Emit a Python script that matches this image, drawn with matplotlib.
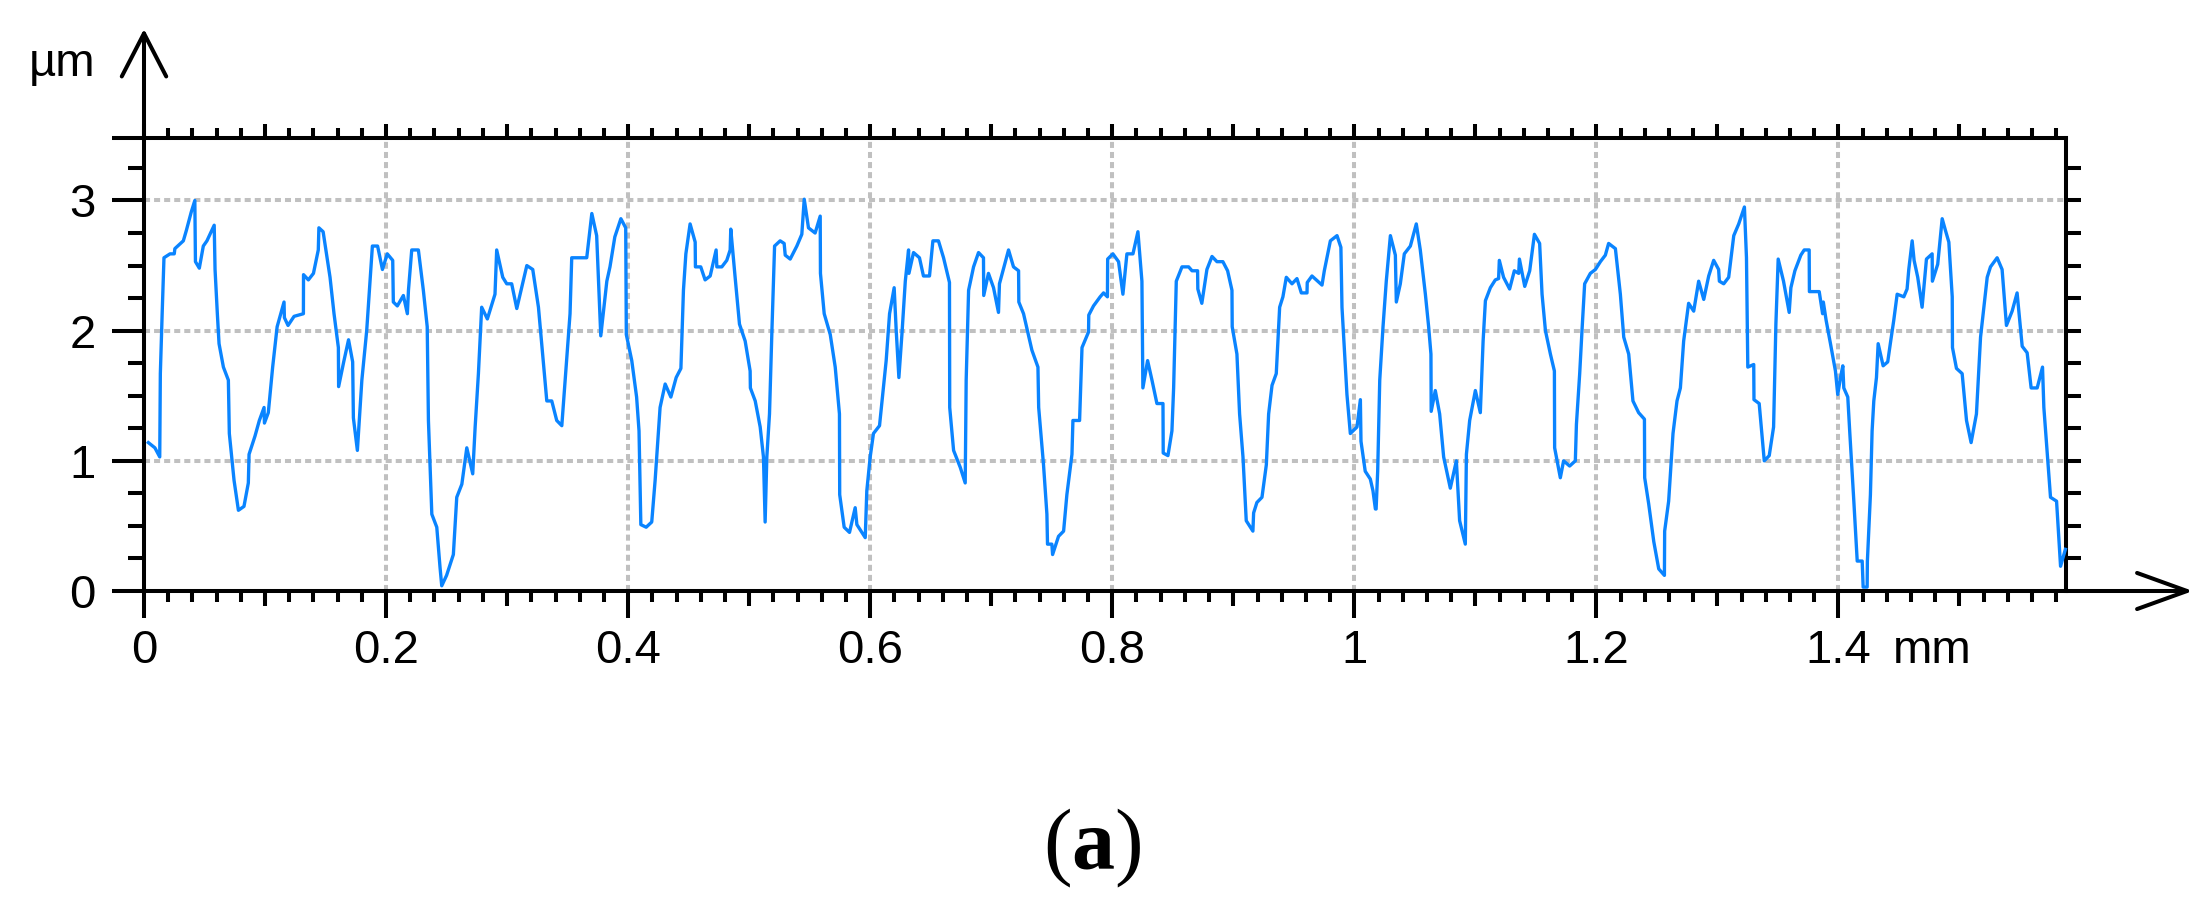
import numpy as np
import matplotlib
matplotlib.use("Agg")
import matplotlib.pyplot as plt
from matplotlib.ticker import MultipleLocator

plt.rcParams['font.family'] = ['Liberation Sans', 'DejaVu Sans']
plt.rcParams['mathtext.fontset'] = 'custom'
plt.rcParams['mathtext.rm'] = 'Liberation Serif'
plt.rcParams['mathtext.bf'] = 'Liberation Serif:bold'

# ---- data (profile, x in mm, height in µm) ----
x_mm = [0.0036, 0.009, 0.013, 0.0135, 0.015, 0.0165, 0.0215, 0.025, 0.0255, 0.0325, 0.035, 0.039, 0.042,
        0.0425, 0.0457, 0.049, 0.052, 0.058, 0.0587, 0.0606, 0.062, 0.0656, 0.0697, 0.0705, 0.0744, 0.078,
        0.0826, 0.0862, 0.0868, 0.0917, 0.0953, 0.0992, 0.0995, 0.1027, 0.1063, 0.110, 0.1157, 0.116, 0.119,
        0.124, 0.1317, 0.1318, 0.1358, 0.140, 0.144, 0.1445, 0.148, 0.1537, 0.157, 0.1606, 0.1608, 0.165,
        0.169, 0.1724, 0.173, 0.1763, 0.180, 0.184, 0.1887, 0.193, 0.197, 0.201, 0.2055, 0.206, 0.2093,
        0.2143, 0.2176, 0.2185, 0.2212, 0.2267, 0.2308, 0.234, 0.235, 0.2378, 0.2419, 0.2446, 0.246, 0.250,
        0.2556, 0.2584, 0.2626, 0.2667, 0.2716, 0.2736, 0.2763, 0.279, 0.2837, 0.290, 0.2914, 0.2964, 0.2997,
        0.3038, 0.308, 0.3163, 0.3212, 0.3259, 0.3306, 0.3328, 0.3369, 0.341, 0.3452, 0.348, 0.352, 0.3534,
        0.3658, 0.370, 0.374, 0.3774, 0.3824, 0.385, 0.389, 0.394, 0.398, 0.3985, 0.403, 0.407, 0.409, 0.4105,
        0.4149, 0.4195, 0.4223, 0.4264, 0.4306, 0.4353, 0.4397, 0.4436, 0.4457, 0.4477, 0.4512, 0.4554,
        0.4556, 0.460, 0.4636, 0.4678, 0.4727, 0.4733, 0.4774, 0.4815, 0.4843, 0.4848, 0.4884, 0.492, 0.4967,
        0.5008, 0.501, 0.505, 0.5091, 0.5118, 0.5132, 0.5146, 0.5168, 0.5188, 0.521, 0.5256, 0.5289, 0.5298,
        0.5339, 0.5394, 0.5435, 0.5455, 0.549, 0.5545, 0.5587, 0.5589, 0.562, 0.567, 0.5711, 0.5746, 0.5748,
        0.5785, 0.5829, 0.5876, 0.589, 0.5959, 0.5972, 0.600, 0.6027, 0.6077, 0.6132, 0.616, 0.6198, 0.6215,
        0.6237, 0.6262, 0.629, 0.6317, 0.632, 0.6358, 0.6407, 0.644, 0.649, 0.6518, 0.6564, 0.6606, 0.6655,
        0.6657, 0.6689, 0.6744, 0.6785, 0.6793, 0.6813, 0.6854, 0.6895, 0.6936, 0.6938, 0.6977, 0.7019, 0.706,
        0.7068, 0.7143, 0.7184, 0.7226, 0.7228, 0.7267, 0.7336, 0.7386, 0.7392, 0.7432, 0.746, 0.7465, 0.7501,
        0.7507, 0.7556, 0.7598, 0.7625, 0.7667, 0.7675, 0.773, 0.775, 0.7804, 0.7806, 0.7845, 0.790, 0.7928,
        0.796, 0.7962, 0.8005, 0.8052, 0.8088, 0.8121, 0.8171, 0.8212, 0.8245, 0.8253, 0.8292, 0.8328, 0.8369,
        0.8419, 0.8421, 0.846, 0.8493, 0.8507, 0.8529, 0.8576, 0.8631, 0.8659, 0.8705, 0.8707, 0.874, 0.8782,
        0.8824, 0.8865, 0.8914, 0.8953, 0.8989, 0.8991, 0.903, 0.9052, 0.908, 0.9107, 0.9162, 0.9168, 0.9195,
        0.9237, 0.9273, 0.9292, 0.932, 0.9355, 0.9383, 0.941, 0.9438, 0.9485, 0.9526, 0.9562, 0.9609, 0.9611,
        0.965, 0.9733, 0.9752, 0.9802, 0.9857, 0.9889, 0.9898, 0.9917, 0.9939, 0.9967, 1.0022, 1.005, 1.0055,
        1.009, 1.0132, 1.0154, 1.0174, 1.0180, 1.0193, 1.021, 1.0237, 1.0264, 1.0298, 1.0339, 1.0347, 1.038,
        1.0413, 1.0463, 1.0512, 1.0545, 1.0587, 1.0614, 1.0633, 1.0635, 1.0669, 1.0705, 1.0738, 1.0793,
        1.0843, 1.087, 1.0917, 1.0926, 1.0953, 1.100, 1.1041, 1.1064, 1.1083, 1.1124, 1.1165, 1.1192, 1.1198,
        1.1233, 1.1283, 1.1322, 1.1358, 1.1364, 1.1408, 1.1449, 1.1488, 1.1531, 1.1551, 1.1579, 1.162, 1.1653,
        1.1655, 1.1702, 1.1729, 1.1779, 1.1826, 1.1835, 1.1862, 1.1881, 1.1903, 1.195, 1.1992, 1.2033, 1.2074,
        1.2101, 1.2157, 1.2198, 1.2226, 1.2267, 1.2302, 1.2349, 1.2397, 1.2399, 1.2432, 1.2474, 1.2515,
        1.2562, 1.2564, 1.2597, 1.2633, 1.2666, 1.2694, 1.2721, 1.2762, 1.2804, 1.2845, 1.2887, 1.2928,
        1.2969, 1.301, 1.3016, 1.3052, 1.3093, 1.3135, 1.3176, 1.3223, 1.324, 1.3251, 1.330, 1.3302, 1.3345,
        1.3387, 1.3428, 1.3464, 1.3483, 1.3502, 1.3546, 1.3593, 1.3607, 1.364, 1.3689, 1.3717, 1.3758, 1.376,
        1.3841, 1.3869, 1.3875, 1.3898, 1.3934, 1.3975, 1.3994, 1.4017, 1.4036, 1.4044, 1.4077, 1.4094,
        1.4127, 1.4155, 1.4196, 1.4204, 1.4237, 1.4239, 1.4264, 1.4278, 1.4292, 1.4314, 1.4328, 1.4369,
        1.4407, 1.443, 1.4457, 1.4485, 1.454, 1.4567, 1.4581, 1.4609, 1.4625, 1.4655, 1.4691, 1.4727, 1.4774,
        1.4776, 1.482, 1.4857, 1.4884, 1.4912, 1.494, 1.4942, 1.4975, 1.5022, 1.5058, 1.5096, 1.514, 1.5174,
        1.5229, 1.5256, 1.5311, 1.5352, 1.5388, 1.5435, 1.5476, 1.5518, 1.5559, 1.5592, 1.5642, 1.5686,
        1.5697, 1.5752, 1.5802, 1.5835, 1.5875]
height_um = [1.14, 1.10, 1.03, 1.67, 2.13, 2.56, 2.59, 2.59, 2.63, 2.69, 2.77, 2.91, 3.00,
             2.53, 2.48, 2.65, 2.69, 2.81, 2.47, 2.13, 1.90, 1.72, 1.62, 1.21, 0.85, 0.62,
             0.65, 0.83, 1.05, 1.19, 1.31, 1.41, 1.29, 1.37, 1.72, 2.03, 2.22, 2.10, 2.04,
             2.11, 2.13, 2.43, 2.39, 2.44, 2.62, 2.79, 2.76, 2.41, 2.13, 1.87, 1.57, 1.76,
             1.93, 1.76, 1.33, 1.08, 1.62, 2.00, 2.65, 2.65, 2.47, 2.59, 2.54, 2.22, 2.19,
             2.27, 2.13, 2.31, 2.62, 2.62, 2.31, 2.03, 1.31, 0.59, 0.49, 0.18, 0.04, 0.12,
             0.28, 0.72, 0.82, 1.10, 0.90, 1.26, 1.67, 2.18, 2.09, 2.28, 2.62, 2.41, 2.36,
             2.36, 2.17, 2.50, 2.47, 2.18, 1.69, 1.46, 1.46, 1.31, 1.27, 1.62, 2.13, 2.56,
             2.56, 2.90, 2.73, 1.96, 2.38, 2.49, 2.72, 2.86, 2.79, 1.97, 1.77, 1.49, 1.23, 0.51,
             0.49, 0.53, 0.85, 1.41, 1.59, 1.49, 1.64, 1.71, 2.31, 2.59, 2.82, 2.68,
             2.49, 2.49, 2.39, 2.42, 2.62, 2.49, 2.49, 2.54, 2.62, 2.78, 2.41, 2.05, 1.92,
             1.69, 1.56, 1.46, 1.26, 1.03, 0.53, 1.03, 1.36, 2.00, 2.65, 2.69, 2.67, 2.58,
             2.55, 2.65, 2.74, 3.01, 2.79, 2.75, 2.88, 2.44, 2.13, 1.97, 1.72, 1.36, 0.74,
             0.49, 0.45, 0.64, 0.51, 0.41, 0.77, 1.03, 1.21, 1.27, 1.77, 2.13, 2.33, 2.00,
             1.64, 1.97, 2.38, 2.62, 2.44, 2.60, 2.56, 2.42, 2.42, 2.69, 2.69, 2.56, 2.37,
             1.41, 1.08, 0.95, 0.83, 1.62, 2.31, 2.49, 2.60, 2.56, 2.27, 2.44, 2.33, 2.14,
             2.36, 2.62, 2.49, 2.46, 2.22, 2.13, 1.85, 1.72, 1.41, 0.97, 0.59, 0.36, 0.36,
             0.28, 0.42, 0.46, 0.74, 1.05, 1.31, 1.31, 1.87, 1.99, 2.12, 2.19, 2.26, 2.29,
             2.26, 2.55, 2.59, 2.53, 2.28, 2.59, 2.59, 2.76, 2.38, 1.56, 1.77, 1.62, 1.44,
             1.44, 1.06, 1.04, 1.23, 1.56, 2.38, 2.49, 2.49, 2.46, 2.46, 2.32, 2.21, 2.47,
             2.57, 2.53, 2.53, 2.46, 2.31, 2.03, 1.82, 1.36, 1.03, 0.54, 0.46, 0.60, 0.68,
             0.72, 0.97, 1.36, 1.58, 1.67, 2.18, 2.26, 2.41, 2.36, 2.40, 2.29, 2.29, 2.37,
             2.42, 2.35, 2.46, 2.69, 2.73, 2.64, 2.18, 1.87, 1.51, 1.21, 1.26, 1.47, 1.15,
             0.92, 0.86, 0.77, 0.63, 0.63, 0.92, 1.62, 2.03, 2.38, 2.73, 2.58, 2.22, 2.36,
             2.59, 2.65, 2.82, 2.62, 2.28, 2.03, 1.82, 1.38, 1.54, 1.36, 1.03, 0.79,
             1.00, 0.54, 0.36, 1.05, 1.31, 1.54, 1.37, 1.92, 2.23, 2.33, 2.39, 2.40, 2.54,
             2.41, 2.32, 2.46, 2.44, 2.55, 2.34, 2.46, 2.74, 2.67, 2.28, 2.00, 1.82, 1.69,
             1.10, 0.87, 1.00, 0.96, 1.00, 1.28, 1.67, 2.00, 2.36, 2.44, 2.47, 2.53, 2.58,
             2.67, 2.63, 2.28, 1.95, 1.82, 1.46, 1.37, 1.32, 0.87, 0.67, 0.38, 0.17,
             0.12, 0.46, 0.69, 1.21, 1.46, 1.56, 1.92, 2.21, 2.15, 2.38, 2.24, 2.42,
             2.54, 2.47, 2.38, 2.36, 2.41, 2.73, 2.82, 2.95, 2.56, 1.72, 1.74, 1.47, 1.44,
             1.00, 1.04, 1.26, 2.05, 2.55, 2.38, 2.14, 2.33, 2.46, 2.58, 2.62, 2.62, 2.30,
             2.30, 2.13, 2.22, 2.08, 1.90, 1.69, 1.51, 1.64, 1.73, 1.56, 1.49, 1.21,
             0.69, 0.23, 0.23, 0.03, 0.03, 0.23, 0.74, 1.23, 1.46, 1.64, 1.90, 1.73,
             1.76, 1.91, 2.08, 2.28, 2.26, 2.32, 2.47, 2.69, 2.54, 2.41, 2.18, 2.55, 2.59,
             2.38, 2.51, 2.86, 2.77, 2.68, 2.26, 1.87, 1.71, 1.67, 1.31, 1.14, 1.36, 1.95,
             2.41, 2.49, 2.56, 2.47, 2.04, 2.15, 2.29, 1.88, 1.83, 1.56, 1.56, 1.72,
             1.41, 0.72, 0.69, 0.19, 0.32]

x_major = [0, 0.2, 0.4, 0.6, 0.8, 1.0, 1.2, 1.4]
x_labels = ['0', '0.2', '0.4', '0.6', '0.8', '1', '1.2', '1.4']
x_mid = [0.1, 0.3, 0.5, 0.7, 0.9, 1.1, 1.3, 1.5]
y_major = [0, 1, 2, 3]
y_labels = ['0', '1', '2', '3']
x_max = 1.588
y_max = 3.48

# ---- figure ----
W, H = 2208, 899
fig = plt.figure(figsize=(W / 100, H / 100), dpi=100)
L, R, T, B = 144, 2066, 138, 591
ax = fig.add_axes([L / W, 1 - B / H, (R - L) / W, (B - T) / H])

blue = '#0A84FF'
ax.plot(x_mm, height_um, color=blue, lw=2.4, zorder=3, clip_on=False)

ax.set_xlim(0, x_max)
ax.set_ylim(0, y_max)

lw_ax = 2.9
for s in ax.spines.values():
    s.set_linewidth(lw_ax)
    s.set_color('black')

fs = 34
# x axis ticks
ax.set_xticks(x_major, labels=x_labels)
ax.xaxis.set_minor_locator(MultipleLocator(0.02))
ax.tick_params(axis='x', which='major', direction='out', length=19.5, width=lw_ax,
               labelsize=fs, pad=8, color='black')
ax.tick_params(axis='x', which='minor', direction='out', length=8, width=lw_ax, color='black')

# y axis ticks
ax.set_yticks(y_major + [y_max], labels=y_labels + [''])
ax.yaxis.set_minor_locator(MultipleLocator(0.25))
ax.tick_params(axis='y', which='major', direction='out', length=23, width=lw_ax,
               labelsize=fs, pad=12, color='black')
ax.tick_params(axis='y', which='minor', direction='out', length=11.5, width=lw_ax, color='black')

# mid ticks on bottom (0.1 multiples)
sb = ax.secondary_xaxis('bottom')
sb.set_xticks(x_mid, labels=[''] * len(x_mid))
sb.tick_params(length=11, width=lw_ax, direction='out')
sb.spines['bottom'].set_visible(False)

# top ticks
st = ax.secondary_xaxis('top')
st.set_xticks(np.round(np.arange(0, 1.55, 0.1), 2), labels=[''] * 16)
st.xaxis.set_minor_locator(MultipleLocator(0.02))
st.tick_params(which='major', length=10, width=lw_ax, direction='out')
st.tick_params(which='minor', length=7, width=lw_ax, direction='out')
st.spines['top'].set_visible(False)

# right ticks
sr = ax.secondary_yaxis('right')
rt = np.round(np.arange(0.25, 3.3, 0.25), 2)
sr.set_yticks(rt, labels=[''] * len(rt))
sr.tick_params(length=11, width=lw_ax, direction='out')
sr.spines['right'].set_visible(False)

# grid
ax.set_axisbelow(True)
ax.grid(True, which='major', color='#c0c0c0', lw=2.9, linestyle=(0, (1.5, 1.0)))

# axis arrows
ax.annotate('', xy=(0, (B - 29) / (B - T)), xytext=(0, 1), xycoords='axes fraction',
            arrowprops=dict(arrowstyle='->,head_length=3.1,head_width=1.6', lw=lw_ax,
                            color='black', shrinkA=0, shrinkB=0, mutation_scale=10))
ax.annotate('', xy=((2193 - L) / (R - L), 0), xytext=(1, 0), xycoords='axes fraction',
            arrowprops=dict(arrowstyle='->,head_length=3.6,head_width=1.3', lw=lw_ax,
                            color='black', shrinkA=0, shrinkB=0, mutation_scale=10))

# unit labels
fig.text(62 / W, 1 - 76 / H, 'µm', ha='center', va='baseline', fontsize=fs)
fig.text(1893 / W, 1 - 663 / H, 'mm', ha='left', va='baseline', fontsize=fs)

# panel label
fig.text(1092 / W, 1 - 848 / H, r'$\mathrm{(}\mathbf{a}\mathrm{)}$', ha='center', va='center',
         fontsize=62)

fig.savefig('out.png', dpi=100)
